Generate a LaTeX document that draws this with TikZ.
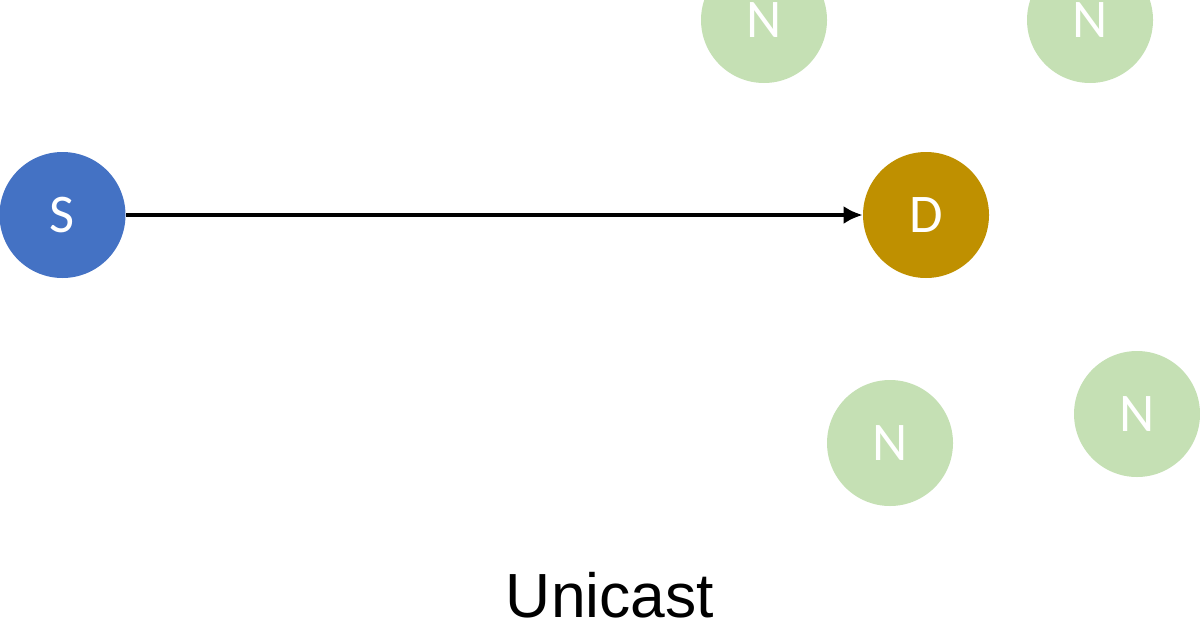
\documentclass[tikz,border=0pt]{standalone}
\usepackage{fontspec}
\setmainfont{Liberation Sans}
\newfontfamily\calfont{Carlito}
\usetikzlibrary{arrows.meta, positioning}
\definecolor{sblue}{HTML}{4472C4}
\definecolor{dgold}{HTML}{BF9000}
\definecolor{ngreen}{HTML}{C5E0B4}
\tikzset{nd/.style={circle, minimum size=2.52cm, inner sep=0pt, text=white, font=\calfont\fontsize{31}{31}\selectfont},
         ln/.style={line width=2.2pt, -{Latex[length=3.8mm, width=3.6mm]}}}

\begin{document}
\begin{tikzpicture}
  \useasboundingbox (0,0) rectangle (24,12.6);
  \node[nd, fill=sblue] (s) at (1.25,8.3) {S};
  \node[nd, fill=dgold] (d) at (18.52,8.3) {D};
  \node[nd, fill=ngreen] (n1) at (15.28,12.2) {N};
  \node[nd, fill=ngreen] (n2) at (21.8,12.2) {N};
  \node[nd, fill=ngreen] (n3) at (17.8,3.74) {N};
  \node[nd, fill=ngreen] (n4) at (22.74,4.32) {N};
  \draw[ln] (s) -- (d);
  \node[anchor=base, font=\fontsize{35.5}{35.5}\selectfont] (cap) at (12.2,0.26) {Unicast};
\end{tikzpicture}
\end{document}
